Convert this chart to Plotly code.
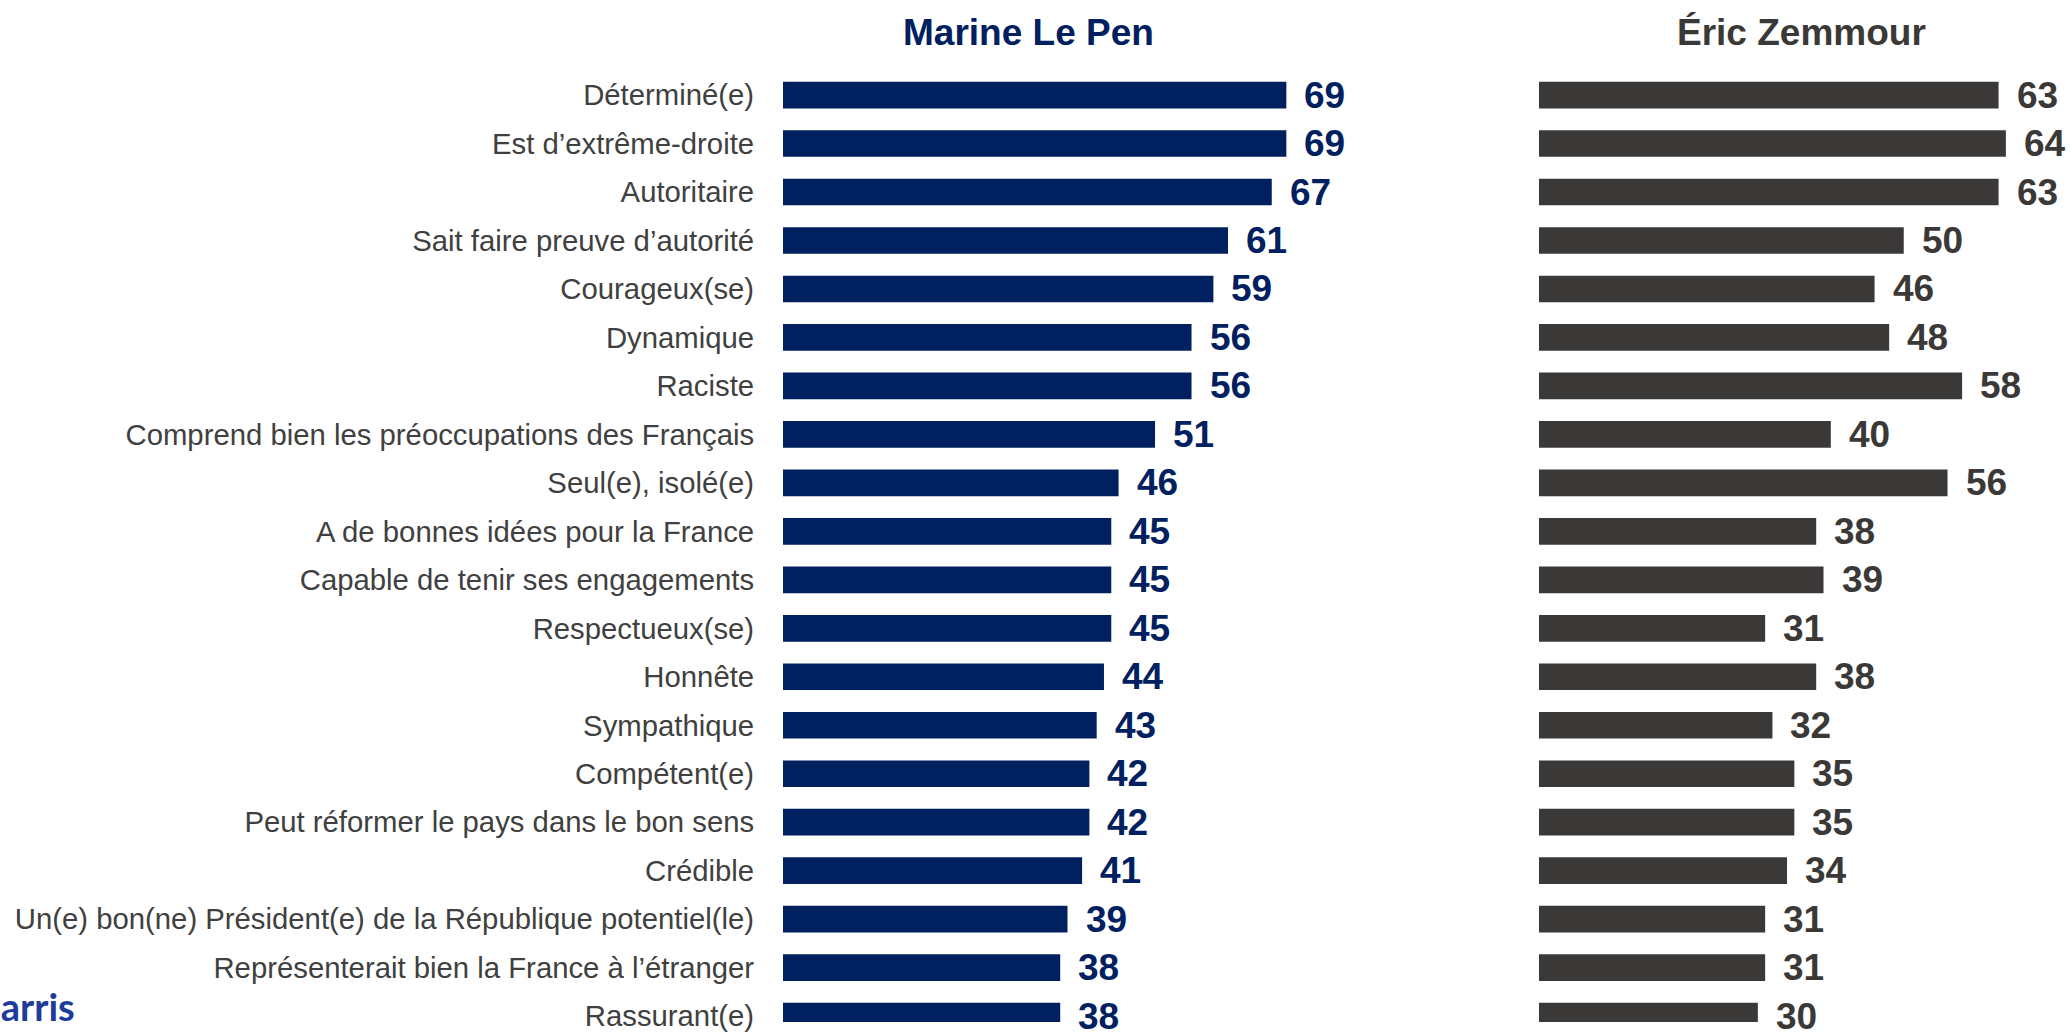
import plotly.graph_objects as go

categories = [
    "Déterminé(e)",
    "Est d’extrême-droite",
    "Autoritaire",
    "Sait faire preuve d’autorité",
    "Courageux(se)",
    "Dynamique",
    "Raciste",
    "Comprend bien les préoccupations des Français",
    "Seul(e), isolé(e)",
    "A de bonnes idées pour la France",
    "Capable de tenir ses engagements",
    "Respectueux(se)",
    "Honnête",
    "Sympathique",
    "Compétent(e)",
    "Peut réformer le pays dans le bon sens",
    "Crédible",
    "Un(e) bon(ne) Président(e) de la République potentiel(le)",
    "Représenterait bien la France à l’étranger",
    "Rassurant(e)",
]
le_pen = [69, 69, 67, 61, 59, 56, 56, 51, 46, 45, 45, 45, 44, 43, 42, 42, 41, 39, 38, 38]
zemmour = [63, 64, 63, 50, 46, 48, 58, 40, 56, 38, 39, 31, 38, 32, 35, 35, 34, 31, 31, 30]
series_names = ["Marine Le Pen", "Éric Zemmour"]

W, H = 2070, 1032
NAVY = "#002060"
DARK = "#3B3838"
LABEL = "#404040"
FONT = "Liberation Sans, Arial, sans-serif"

PX_PER_UNIT = 7.295
X1_START, X1_END = 783, 1530
X2_START, X2_END = 1539, 2070
ROW = 48.95
TOP = 96 - ROW / 2

def px(v):
    return v / W

fig = go.Figure()
fig.add_trace(go.Bar(
    y=categories, x=le_pen, orientation="h", marker_color=NAVY,
    marker_line_width=0, xaxis="x", yaxis="y", name=series_names[0],
))
fig.add_trace(go.Bar(
    y=categories, x=zemmour, orientation="h", marker_color=DARK,
    marker_line_width=0, xaxis="x2", yaxis="y2", name=series_names[1],
))

annotations = []
for c, v in zip(categories, le_pen):
    annotations.append(dict(x=v, y=c, xref="x", yref="y", text=str(v), showarrow=False,
                            xanchor="left", yanchor="middle", xshift=16,
                            font=dict(family=FONT, size=37, color=NAVY, weight="bold")))
for c, v in zip(categories, zemmour):
    annotations.append(dict(x=v, y=c, xref="x2", yref="y2", text=str(v), showarrow=False,
                            xanchor="left", yanchor="middle", xshift=16,
                            font=dict(family=FONT, size=37, color=DARK, weight="bold")))

annotations.append(dict(x=1028 / W, y=1 - 33 / H, xref="paper", yref="paper",
                        text="<b>" + series_names[0] + "</b>", showarrow=False,
                        xanchor="center", yanchor="middle",
                        font=dict(family=FONT, size=37, color=NAVY)))
annotations.append(dict(x=1801 / W, y=1 - 33 / H, xref="paper", yref="paper",
                        text="<b>" + series_names[1] + "</b>", showarrow=False,
                        xanchor="center", yanchor="middle",
                        font=dict(family=FONT, size=37, color=DARK)))
annotations.append(dict(x=77 / W, y=0, xref="paper", yref="paper",
                        text="<b>Harris</b>", showarrow=False,
                        xanchor="right", yanchor="bottom", yshift=-9,
                        font=dict(family="Lato, Liberation Sans, sans-serif", size=38, color="#1E3C99")))

y_top_paper = 1 - TOP / H
n_units = (H - TOP) / ROW
y_range = [-0.5 + n_units, -0.5]

fig.update_layout(
    width=W, height=H,
    margin=dict(l=0, r=0, t=0, b=0),
    paper_bgcolor="white", plot_bgcolor="white",
    showlegend=False,
    bargap=0.45,
    xaxis=dict(domain=[px(X1_START), px(X1_END)], range=[0, (X1_END - X1_START) / PX_PER_UNIT],
               visible=False, fixedrange=True),
    xaxis2=dict(domain=[px(X2_START), px(X2_END)], range=[0, (X2_END - X2_START) / PX_PER_UNIT],
                visible=False, fixedrange=True),
    yaxis=dict(domain=[0, y_top_paper], range=y_range, type="category",
               categoryorder="array", categoryarray=categories,
               showgrid=False, zeroline=False, showline=False,
               ticks="outside", ticklen=22, tickcolor="rgba(0,0,0,0)",
               tickfont=dict(family=FONT, size=29.3, color=LABEL), anchor="x"),
    yaxis2=dict(domain=[0, y_top_paper], range=y_range, type="category",
                categoryorder="array", categoryarray=categories,
                showgrid=False, zeroline=False, showline=False, showticklabels=False,
                anchor="x2"),
    annotations=annotations,
)

fig.write_html(
    "out.html",
    config={"displayModeBar": False},
    post_script="document.body.style.margin='0';document.body.style.overflow='hidden';",
)
